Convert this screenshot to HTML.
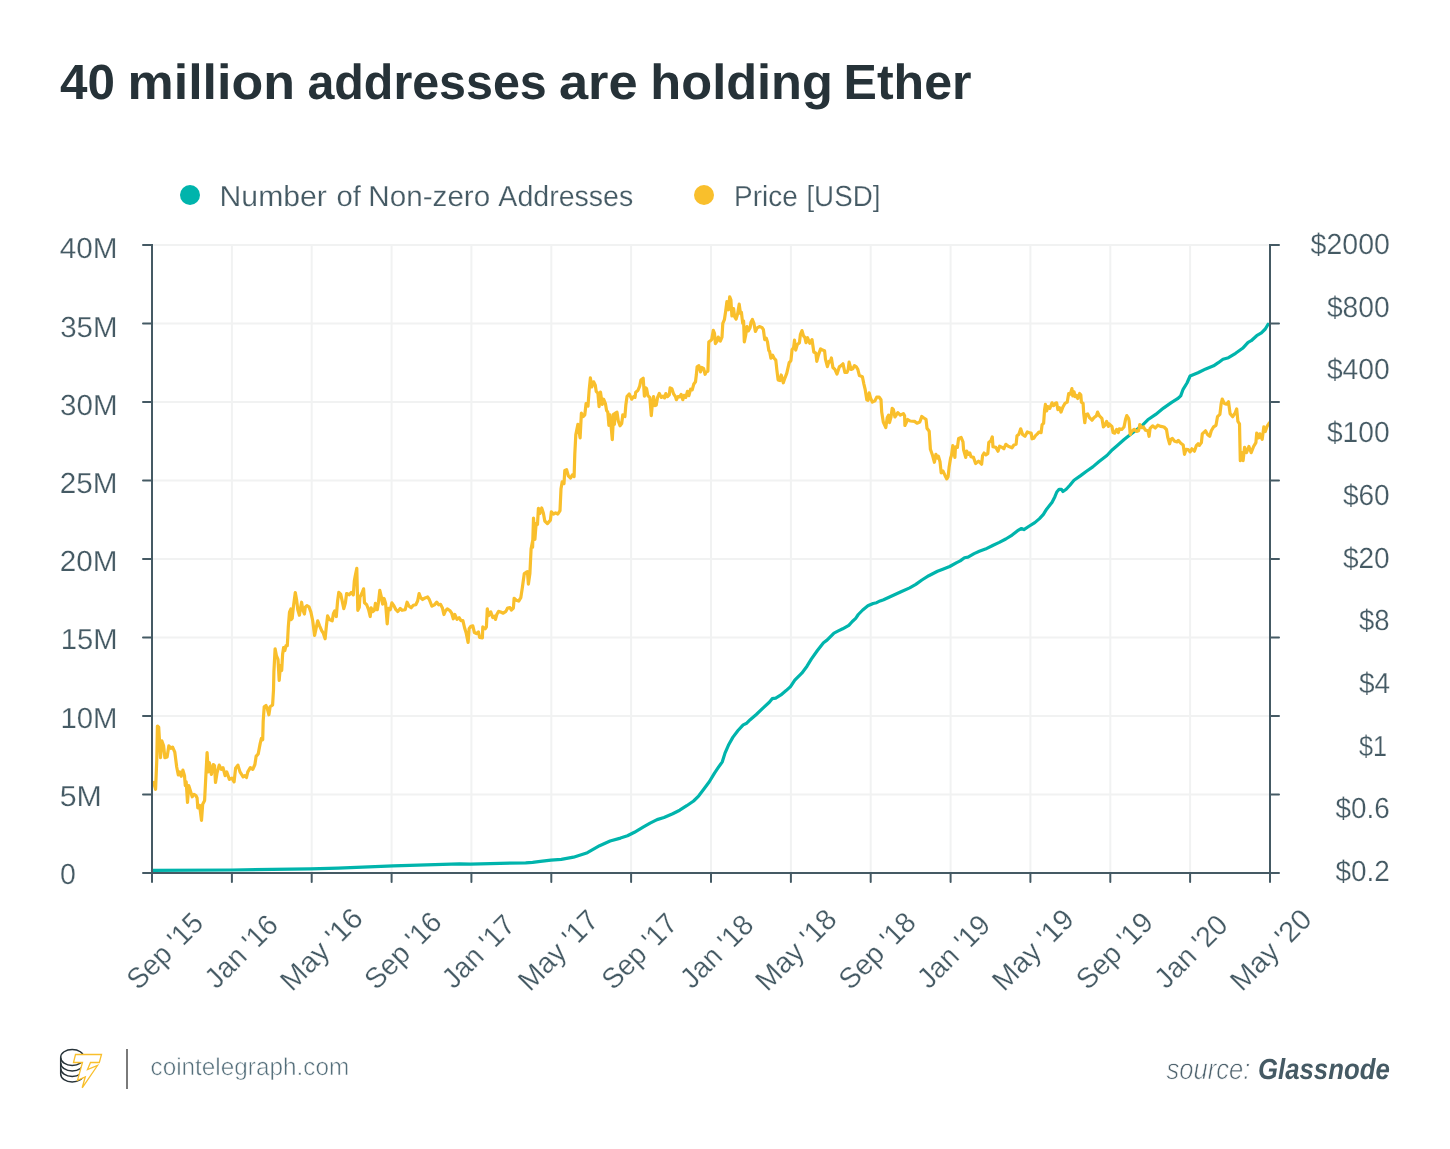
<!DOCTYPE html>
<html>
<head>
<meta charset="utf-8">
<title>40 million addresses are holding Ether</title>
<style>
  html, body { margin: 0; padding: 0; background: #ffffff; }
  body { width: 1450px; height: 1149px; overflow: hidden; font-family: "Liberation Sans", sans-serif; }
  svg { display: block; will-change: transform; }
  text { font-family: "Liberation Sans", sans-serif; text-rendering: geometricPrecision; }
  .title { font-size: 49.3px; font-weight: bold; fill: #263238; }
  .lbl { font-size: 29px; fill: #455a64; stroke: #ffffff; stroke-width: 0.22px; }
  .grid line { stroke: #f1f2f2; stroke-width: 2; }
  .axis line { stroke: #455a64; stroke-width: 2; stroke-linecap: round; }
  .axis line.m { stroke-linecap: butt; }
</style>
</head>
<body>
<svg width="1450" height="1149" viewBox="0 0 1450 1149">

  <!-- Title -->
  <g class="title">
    <text x="60.05" y="98.8" textLength="54.94" lengthAdjust="spacingAndGlyphs">40</text>
    <text x="127.52" y="98.8" textLength="167.39" lengthAdjust="spacingAndGlyphs">million</text>
    <text x="307.41" y="98.8" textLength="239.32" lengthAdjust="spacingAndGlyphs">addresses</text>
    <text x="558.99" y="98.8" textLength="78.64" lengthAdjust="spacingAndGlyphs">are</text>
    <text x="650.36" y="98.8" textLength="182.55" lengthAdjust="spacingAndGlyphs">holding</text>
    <text x="843.53" y="98.8" textLength="128.00" lengthAdjust="spacingAndGlyphs">Ether</text>
  </g>

  <!-- Legend -->
  <circle cx="190" cy="195" r="10" fill="#00b4ac"/>
  <circle cx="704" cy="195" r="10" fill="#f9bf2c"/>
  <g class="lbl">
    <text x="219.59" y="205.8" textLength="107.31" lengthAdjust="spacingAndGlyphs">Number</text>
    <text x="336.44" y="205.8" textLength="24.39" lengthAdjust="spacingAndGlyphs">of</text>
    <text x="368.33" y="205.8" textLength="121.90" lengthAdjust="spacingAndGlyphs">Non-zero</text>
    <text x="498.35" y="205.8" textLength="134.89" lengthAdjust="spacingAndGlyphs">Addresses</text>
    <text x="734.07" y="205.8" textLength="63.64" lengthAdjust="spacingAndGlyphs">Price</text>
    <text x="806.39" y="205.8" textLength="74.03" lengthAdjust="spacingAndGlyphs">[USD]</text>
  </g>

  <!-- Grid -->
  <g class="grid">
    <line x1="231.9" y1="245.0" x2="231.9" y2="873.0"/>
    <line x1="311.7" y1="245.0" x2="311.7" y2="873.0"/>
    <line x1="391.6" y1="245.0" x2="391.6" y2="873.0"/>
    <line x1="471.4" y1="245.0" x2="471.4" y2="873.0"/>
    <line x1="551.3" y1="245.0" x2="551.3" y2="873.0"/>
    <line x1="631.1" y1="245.0" x2="631.1" y2="873.0"/>
    <line x1="711.0" y1="245.0" x2="711.0" y2="873.0"/>
    <line x1="790.9" y1="245.0" x2="790.9" y2="873.0"/>
    <line x1="870.7" y1="245.0" x2="870.7" y2="873.0"/>
    <line x1="950.6" y1="245.0" x2="950.6" y2="873.0"/>
    <line x1="1030.4" y1="245.0" x2="1030.4" y2="873.0"/>
    <line x1="1110.3" y1="245.0" x2="1110.3" y2="873.0"/>
    <line x1="1190.1" y1="245.0" x2="1190.1" y2="873.0"/>
    <line x1="152.0" y1="245.0" x2="1270.0" y2="245.0"/>
    <line x1="152.0" y1="323.5" x2="1270.0" y2="323.5"/>
    <line x1="152.0" y1="402.0" x2="1270.0" y2="402.0"/>
    <line x1="152.0" y1="480.5" x2="1270.0" y2="480.5"/>
    <line x1="152.0" y1="559.0" x2="1270.0" y2="559.0"/>
    <line x1="152.0" y1="637.5" x2="1270.0" y2="637.5"/>
    <line x1="152.0" y1="716.0" x2="1270.0" y2="716.0"/>
    <line x1="152.0" y1="794.5" x2="1270.0" y2="794.5"/>
  </g>

  <!-- Series -->
  <path d="M152.4,870.3 L231.9,870.0 L310.5,868.9 L338.1,868.1 L393.3,865.9 L459.5,863.9 L470.5,864.1 L525.7,862.8 L532.6,862.3 L540.4,861.4 L550.9,860.2 L561.3,859.3 L573.5,857.2 L587.4,852.7 L599.6,845.7 L610.1,841.0 L620.5,838.1 L627.5,835.8 L634.4,832.3 L643.1,827.1 L650.1,823.1 L657.1,819.6 L664.0,817.5 L672.7,813.7 L679.7,810.2 L686.7,805.7 L693.6,801.0 L698.8,795.8 L704.1,788.8 L709.3,781.8 L714.5,773.1 L718.0,767.9 L722.3,761.8 L725.0,753.1 L728.4,745.3 L732.8,737.4 L738.0,730.5 L743.2,724.9 L746.7,723.2 L750.2,719.7 L756.3,714.5 L763.2,707.9 L769.3,702.3 L772.2,698.7 L775.7,698.1 L780.9,694.9 L786.1,690.6 L790.5,686.6 L794.8,680.1 L801.8,673.2 L807.0,666.2 L811.3,659.2 L817.4,650.5 L823.5,642.7 L827.0,640.1 L834.0,633.1 L838.3,630.9 L842.7,628.8 L848.8,625.3 L852.3,621.5 L855.7,618.3 L858.3,614.5 L862.7,610.0 L867.9,605.8 L873.1,603.5 L876.6,602.7 L880.1,600.9 L883.6,599.7 L892.3,595.7 L901.0,591.7 L909.7,587.9 L915.8,584.4 L921.9,580.0 L928.8,575.7 L937.5,571.3 L942.8,569.2 L949.7,566.5 L956.7,562.6 L960.2,560.9 L964.5,557.8 L968.0,557.1 L974.1,553.6 L979.3,551.3 L985.4,549.1 L993.2,545.2 L999.3,542.4 L1005.8,539.0 L1012.1,535.1 L1017.6,530.7 L1021.5,528.5 L1023.9,529.6 L1028.6,526.5 L1034.8,522.6 L1039.5,518.6 L1043.4,514.4 L1046.6,509.2 L1052.1,502.2 L1054.9,496.7 L1056.8,492.0 L1059.1,489.3 L1061.5,489.3 L1063.0,491.5 L1066.2,489.3 L1070.1,485.0 L1074.0,480.3 L1080.3,475.9 L1086.5,471.2 L1092.8,466.9 L1099.1,461.5 L1106.9,455.5 L1112.4,449.7 L1117.9,445.0 L1124.1,439.5 L1130.4,434.5 L1136.7,429.8 L1142.3,425.3 L1147.8,419.8 L1155.7,414.4 L1163.5,408.1 L1171.3,402.6 L1177.6,398.7 L1180.7,395.9 L1183.1,389.3 L1187.0,383.0 L1190.1,376.0 L1198.0,372.8 L1205.8,368.9 L1213.6,365.8 L1218.3,362.7 L1223.0,359.2 L1228.5,357.7 L1235.6,353.3 L1242.6,348.3 L1248.1,342.3 L1251.2,340.7 L1256.7,335.7 L1261.4,332.9 L1265.3,329.0 L1268.1,324.3" fill="none" stroke="#00b4ac" stroke-width="3.2" stroke-linejoin="round" stroke-linecap="round"/>
  <path d="M153.7,782.5 L155.6,789.3 L156.8,759.5 L157.4,726.0 L158.7,727.2 L160.5,757.7 L161.8,740.9 L163.6,745.9 L164.9,757.7 L167.1,757.0 L168.8,745.9 L171.1,748.3 L172.6,747.1 L174.8,752.1 L176.7,767.0 L178.3,775.0 L179.8,771.9 L181.2,776.3 L182.9,770.1 L184.5,775.7 L185.3,785.6 L186.2,781.9 L187.5,802.3 L188.7,785.6 L190.3,790.6 L192.2,796.8 L194.0,794.3 L195.9,795.5 L197.1,798.0 L197.8,807.9 L199.6,805.4 L201.5,820.3 L202.7,804.2 L204.6,800.5 L205.8,776.9 L207.1,752.7 L208.3,771.9 L209.3,762.6 L211.4,774.4 L213.3,764.5 L214.5,765.7 L215.5,782.5 L217.0,773.2 L219.2,765.1 L221.3,769.4 L223.0,767.6 L225.1,775.7 L226.7,771.9 L229.4,779.4 L231.9,778.1 L234.1,781.9 L235.6,768.2 L237.9,765.1 L240.0,771.9 L243.1,776.9 L244.9,775.7 L246.5,777.5 L247.8,771.9 L250.3,767.6 L252.8,769.4 L254.9,764.5 L256.1,756.4 L258.2,753.9 L260.2,743.4 L261.4,738.4 L262.7,739.7 L263.2,721.0 L264.2,706.8 L266.0,705.5 L267.3,708.6 L268.9,714.8 L270.1,706.8 L272.6,704.9 L273.5,690.0 L273.9,671.7 L275.1,648.8 L276.4,655.6 L278.0,659.3 L279.2,680.4 L280.4,665.5 L281.7,670.5 L282.6,654.3 L283.6,647.5 L284.8,650.6 L286.0,645.7 L287.3,645.7 L288.3,627.0 L289.5,612.1 L290.8,609.0 L291.2,619.6 L292.2,618.3 L293.5,605.9 L295.3,592.5 L296.6,599.7 L297.8,609.7 L299.4,615.2 L300.7,607.2 L301.6,602.2 L302.8,609.7 L304.4,614.0 L305.3,607.2 L306.9,605.7 L309.0,606.9 L310.9,612.1 L312.7,620.8 L314.6,635.5 L316.1,628.3 L317.7,620.8 L319.6,625.8 L321.8,630.8 L323.3,633.2 L325.1,638.8 L326.4,625.8 L327.6,615.9 L329.5,619.6 L332.2,620.8 L333.5,613.4 L334.7,610.9 L336.3,616.5 L337.6,601.0 L338.8,592.3 L340.7,594.1 L341.9,599.7 L343.8,608.7 L345.4,602.8 L346.6,593.5 L349.3,594.8 L351.2,592.5 L353.3,594.8 L354.3,581.1 L355.3,575.5 L356.8,568.4 L357.8,610.3 L359.3,607.2 L359.9,597.2 L361.8,593.5 L363.6,588.8 L364.5,602.8 L366.7,604.7 L368.6,609.7 L370.2,616.5 L371.1,607.8 L372.9,611.5 L374.4,610.3 L375.4,603.4 L377.3,609.7 L378.5,602.2 L379.8,590.4 L381.4,597.2 L382.6,604.1 L384.1,598.5 L385.6,603.4 L387.2,623.9 L388.4,608.4 L390.3,609.7 L391.9,602.8 L394.0,605.9 L395.9,609.7 L397.8,611.5 L400.2,608.4 L402.1,610.3 L405.2,609.7 L407.1,602.2 L408.9,605.9 L411.2,607.8 L413.3,605.3 L415.8,604.7 L417.6,601.0 L419.1,593.5 L420.7,597.9 L422.6,599.5 L425.1,597.9 L427.6,597.0 L429.4,599.7 L431.9,606.2 L434.4,604.9 L436.8,602.1 L438.7,604.8 L440.5,604.3 L442.4,608.0 L443.9,614.5 L445.5,610.8 L447.3,608.9 L449.8,610.5 L451.7,613.2 L453.3,618.8 L454.8,614.5 L457.0,619.4 L459.1,617.6 L461.0,620.7 L462.9,620.7 L464.5,627.5 L466.2,633.1 L468.1,642.4 L469.1,628.8 L470.9,626.3 L472.8,625.9 L474.4,632.5 L476.5,633.7 L478.4,631.9 L479.6,637.4 L482.4,637.8 L482.8,626.9 L485.2,628.8 L486.4,626.9 L487.3,608.9 L488.6,615.7 L490.8,612.0 L492.7,617.6 L494.3,616.3 L495.5,619.4 L496.8,614.5 L498.5,611.4 L500.7,612.0 L503.2,613.2 L505.9,611.4 L507.6,608.0 L510.0,607.7 L511.3,610.1 L513.4,608.0 L514.1,598.3 L516.2,600.2 L518.7,601.1 L520.8,597.7 L522.4,587.2 L524.3,573.5 L526.2,572.3 L527.4,571.7 L528.4,584.1 L529.9,573.5 L531.1,548.7 L532.8,540.0 L532.6,547.1 L533.5,518.1 L534.9,539.3 L536.1,523.6 L537.5,524.5 L538.4,508.3 L539.9,513.5 L541.7,508.0 L543.4,513.2 L544.8,521.0 L547.4,523.6 L550.4,520.1 L551.4,511.8 L553.5,514.0 L555.6,512.8 L557.9,514.0 L560.0,510.6 L561.0,488.8 L562.2,481.8 L564.0,483.6 L564.8,470.5 L566.6,469.7 L568.3,475.8 L570.6,478.0 L572.3,474.9 L574.1,476.6 L574.8,454.0 L575.8,434.8 L577.9,424.4 L580.1,437.8 L581.4,413.1 L583.1,416.6 L584.8,414.8 L586.1,403.5 L588.0,406.1 L589.2,389.6 L590.4,377.9 L591.8,387.0 L593.6,381.8 L595.3,385.2 L596.2,391.3 L597.9,393.1 L599.1,406.6 L600.5,392.2 L602.3,404.4 L603.6,399.2 L605.4,403.5 L606.6,410.5 L607.8,412.2 L608.9,425.3 L610.1,414.8 L612.3,439.7 L613.6,414.0 L614.4,424.4 L615.3,413.1 L617.0,412.2 L618.3,420.9 L620.0,425.8 L621.7,423.5 L622.8,414.8 L624.9,416.6 L625.8,405.3 L627.0,396.6 L629.2,393.9 L631.8,399.2 L633.6,396.6 L635.0,397.4 L635.7,392.2 L637.9,390.5 L639.7,386.1 L640.9,380.0 L643.2,378.3 L644.4,396.2 L645.8,387.9 L646.6,388.7 L647.9,395.7 L649.8,397.4 L651.3,415.7 L652.4,403.5 L653.6,396.6 L654.8,405.6 L656.2,405.3 L657.6,397.4 L659.3,393.4 L661.4,397.4 L663.2,396.2 L664.6,397.9 L665.8,393.6 L667.5,396.6 L669.3,394.8 L670.1,387.9 L671.9,388.7 L673.6,393.9 L675.4,396.6 L676.4,399.7 L678.0,396.6 L679.7,396.9 L681.1,394.5 L682.8,399.7 L684.1,395.3 L685.8,397.4 L687.5,391.3 L688.9,395.7 L690.6,389.2 L692.2,389.9 L693.7,384.3 L695.5,381.8 L696.4,374.3 L697.1,366.9 L698.9,365.7 L700.5,371.9 L701.7,367.5 L703.6,368.4 L705.1,374.3 L706.3,371.9 L707.9,371.2 L708.8,342.1 L710.4,340.8 L711.7,339.6 L713.3,330.3 L714.5,333.4 L715.4,343.6 L717.0,341.4 L718.2,337.1 L720.3,341.1 L722.0,337.1 L722.8,323.4 L724.4,319.7 L725.7,311.0 L726.9,301.7 L728.4,309.8 L729.7,296.8 L730.9,299.9 L731.9,316.0 L733.6,308.6 L734.6,316.6 L736.1,319.1 L737.7,313.5 L739.2,304.2 L740.5,313.5 L741.4,312.3 L742.7,323.4 L743.6,321.0 L744.3,341.8 L745.8,334.6 L747.0,326.6 L748.3,330.9 L750.1,327.8 L751.0,322.2 L752.4,319.5 L753.9,323.4 L755.4,331.5 L757.2,327.8 L759.4,326.6 L761.9,327.4 L763.4,329.7 L764.7,339.6 L766.3,338.3 L767.5,342.1 L768.8,350.5 L769.6,351.4 L770.9,358.2 L772.5,355.1 L774.1,358.2 L775.8,360.1 L776.8,369.4 L778.1,379.9 L779.9,380.6 L781.2,375.0 L783.3,382.8 L784.9,378.1 L786.8,373.1 L789.2,362.6 L790.9,360.7 L792.1,349.5 L793.6,347.7 L794.5,340.2 L795.7,350.1 L797.3,344.6 L799.4,342.7 L800.4,334.6 L802.0,330.6 L803.5,335.9 L804.8,337.4 L806.0,342.7 L807.6,337.7 L809.7,343.3 L812.0,339.6 L813.8,352.0 L815.9,353.2 L816.8,361.3 L818.4,355.1 L820.6,348.9 L822.5,350.1 L824.6,350.8 L825.5,359.4 L827.4,366.6 L829.0,361.3 L830.2,361.9 L831.4,358.0 L832.9,367.5 L834.9,369.4 L837.0,374.1 L839.3,366.9 L841.1,365.7 L843.0,363.8 L844.9,372.5 L847.0,372.5 L848.2,369.4 L849.1,362.2 L851.1,369.4 L852.8,368.8 L854.4,365.7 L856.3,366.9 L857.8,369.4 L859.4,375.6 L862.4,376.7 L863.9,384.1 L865.1,389.1 L866.8,399.7 L868.0,400.3 L869.2,392.8 L870.5,397.8 L872.3,402.1 L874.8,400.9 L876.7,397.2 L879.2,397.2 L881.0,399.7 L881.7,412.1 L883.3,422.0 L885.8,427.6 L887.2,417.7 L888.5,415.2 L889.5,422.6 L891.0,417.0 L892.2,408.3 L893.4,409.6 L894.9,417.0 L897.8,412.7 L900.3,415.2 L903.4,413.6 L904.6,415.8 L904.9,425.5 L907.7,419.5 L910.2,421.0 L914.6,421.4 L917.0,423.2 L919.8,422.0 L921.8,416.4 L923.9,418.0 L926.0,419.3 L927.0,428.2 L929.2,431.3 L930.4,449.3 L932.6,455.5 L934.4,462.3 L935.9,454.3 L937.5,458.0 L938.4,456.1 L940.0,461.7 L941.2,472.9 L942.9,471.0 L945.0,475.4 L946.8,478.9 L948.1,476.6 L949.1,467.3 L950.6,458.0 L951.5,455.5 L952.8,445.6 L954.9,457.4 L955.5,446.8 L957.4,447.4 L958.6,438.4 L961.1,437.5 L963.0,441.9 L963.6,449.9 L965.7,457.4 L966.7,451.2 L968.6,454.3 L969.8,453.0 L971.0,456.8 L973.5,457.4 L975.6,463.6 L978.5,461.1 L981.6,464.2 L982.6,455.5 L984.1,453.0 L985.9,454.9 L987.8,453.7 L988.8,442.5 L990.9,440.6 L992.3,436.9 L993.0,446.8 L995.9,447.4 L998.0,451.2 L999.6,446.2 L1002.1,447.4 L1003.9,448.7 L1005.8,444.3 L1008.3,446.2 L1012.0,447.8 L1013.9,445.0 L1016.1,444.3 L1017.0,435.7 L1018.8,434.4 L1020.7,428.8 L1022.6,434.4 L1025.0,436.3 L1027.3,431.9 L1029.4,432.9 L1031.2,433.2 L1032.0,438.8 L1033.9,438.2 L1035.5,435.7 L1037.4,433.9 L1038.9,432.0 L1041.1,432.6 L1042.1,424.6 L1043.6,423.3 L1044.6,409.7 L1045.4,404.4 L1046.7,410.9 L1047.9,406.6 L1049.8,408.4 L1052.0,402.8 L1053.5,405.7 L1055.4,403.2 L1056.6,402.8 L1057.9,409.7 L1059.5,407.8 L1061.0,412.1 L1062.8,407.2 L1064.9,403.4 L1067.2,402.2 L1068.7,393.5 L1070.3,394.1 L1071.9,388.6 L1072.8,396.0 L1074.0,391.7 L1075.2,396.6 L1076.5,395.4 L1077.7,398.5 L1079.6,393.5 L1080.8,394.8 L1081.4,402.2 L1083.1,403.4 L1083.7,413.4 L1084.8,422.7 L1085.8,414.6 L1087.7,414.0 L1089.5,417.7 L1092.0,420.2 L1093.9,417.7 L1096.3,415.9 L1097.6,412.1 L1099.4,415.9 L1101.9,418.3 L1103.4,427.0 L1105.0,425.2 L1106.6,421.4 L1108.4,426.4 L1109.1,423.9 L1111.9,426.4 L1113.1,432.6 L1114.6,433.2 L1116.6,429.5 L1118.3,432.6 L1119.3,428.9 L1121.8,429.5 L1124.0,427.0 L1125.5,419.6 L1126.8,415.6 L1128.6,418.3 L1129.2,421.4 L1130.2,434.5 L1131.7,431.4 L1134.2,429.3 L1136.7,431.4 L1138.6,430.8 L1139.8,424.6 L1141.7,427.7 L1143.5,427.0 L1145.4,430.1 L1147.9,430.8 L1149.1,436.3 L1150.1,428.3 L1152.6,425.8 L1155.3,428.0 L1157.8,425.2 L1160.9,426.4 L1164.0,427.0 L1166.5,429.5 L1167.7,437.0 L1169.6,443.8 L1170.8,439.4 L1172.4,438.5 L1174.6,441.3 L1177.0,441.9 L1178.3,440.4 L1180.8,443.2 L1183.2,445.0 L1184.5,454.3 L1186.1,449.4 L1188.2,449.6 L1190.1,451.9 L1191.9,448.8 L1194.4,451.2 L1196.3,445.7 L1198.1,443.8 L1199.4,445.4 L1201.4,442.6 L1202.3,433.9 L1205.5,430.8 L1207.7,434.7 L1209.7,436.3 L1211.3,430.8 L1213.6,426.9 L1216.0,425.3 L1217.5,416.7 L1219.9,414.4 L1221.1,404.2 L1222.2,399.0 L1224.3,403.4 L1226.5,404.2 L1228.5,401.8 L1230.1,413.6 L1232.7,416.7 L1235.2,412.8 L1236.7,408.9 L1237.9,421.4 L1239.5,423.8 L1240.3,460.6 L1242.1,452.7 L1243.1,460.6 L1244.6,447.3 L1246.5,452.7 L1248.9,446.5 L1251.2,452.7 L1253.6,446.5 L1255.9,442.6 L1256.7,433.2 L1258.7,437.9 L1259.8,433.9 L1262.2,439.4 L1263.8,426.9 L1265.3,431.6 L1267.2,426.1 L1269.2,423.0" fill="none" stroke="#f9bf2c" stroke-width="3.2" stroke-linejoin="round" stroke-linecap="round"/>

  <!-- Axes -->
  <g class="axis">
    <line class="m" x1="152.0" y1="244.0" x2="152.0" y2="874.0"/>
    <line class="m" x1="1270.0" y1="244.0" x2="1270.0" y2="874.0"/>
    <line x1="143.0" y1="873.0" x2="1279.0" y2="873.0"/>
    <line x1="143.0" y1="245.0" x2="152.0" y2="245.0"/>
    <line x1="1270.0" y1="245.0" x2="1279.0" y2="245.0"/>
    <line x1="143.0" y1="323.5" x2="152.0" y2="323.5"/>
    <line x1="1270.0" y1="323.5" x2="1279.0" y2="323.5"/>
    <line x1="143.0" y1="402.0" x2="152.0" y2="402.0"/>
    <line x1="1270.0" y1="402.0" x2="1279.0" y2="402.0"/>
    <line x1="143.0" y1="480.5" x2="152.0" y2="480.5"/>
    <line x1="1270.0" y1="480.5" x2="1279.0" y2="480.5"/>
    <line x1="143.0" y1="559.0" x2="152.0" y2="559.0"/>
    <line x1="1270.0" y1="559.0" x2="1279.0" y2="559.0"/>
    <line x1="143.0" y1="637.5" x2="152.0" y2="637.5"/>
    <line x1="1270.0" y1="637.5" x2="1279.0" y2="637.5"/>
    <line x1="143.0" y1="716.0" x2="152.0" y2="716.0"/>
    <line x1="1270.0" y1="716.0" x2="1279.0" y2="716.0"/>
    <line x1="143.0" y1="794.5" x2="152.0" y2="794.5"/>
    <line x1="1270.0" y1="794.5" x2="1279.0" y2="794.5"/>
    <line x1="152.0" y1="873.0" x2="152.0" y2="882.0"/>
    <line x1="231.9" y1="873.0" x2="231.9" y2="882.0"/>
    <line x1="311.7" y1="873.0" x2="311.7" y2="882.0"/>
    <line x1="391.6" y1="873.0" x2="391.6" y2="882.0"/>
    <line x1="471.4" y1="873.0" x2="471.4" y2="882.0"/>
    <line x1="551.3" y1="873.0" x2="551.3" y2="882.0"/>
    <line x1="631.1" y1="873.0" x2="631.1" y2="882.0"/>
    <line x1="711.0" y1="873.0" x2="711.0" y2="882.0"/>
    <line x1="790.9" y1="873.0" x2="790.9" y2="882.0"/>
    <line x1="870.7" y1="873.0" x2="870.7" y2="882.0"/>
    <line x1="950.6" y1="873.0" x2="950.6" y2="882.0"/>
    <line x1="1030.4" y1="873.0" x2="1030.4" y2="882.0"/>
    <line x1="1110.3" y1="873.0" x2="1110.3" y2="882.0"/>
    <line x1="1190.1" y1="873.0" x2="1190.1" y2="882.0"/>
    <line x1="1270.0" y1="873.0" x2="1270.0" y2="882.0"/>
  </g>

  <!-- Left labels -->
  <g class="lbl">
    <text x="59.71" y="258.4" textLength="57.87" lengthAdjust="spacingAndGlyphs">40M</text>
    <text x="60.24" y="336.6" textLength="57.31" lengthAdjust="spacingAndGlyphs">35M</text>
    <text x="60.04" y="414.8" textLength="57.52" lengthAdjust="spacingAndGlyphs">30M</text>
    <text x="59.76" y="492.9" textLength="57.81" lengthAdjust="spacingAndGlyphs">25M</text>
    <text x="59.76" y="571.1" textLength="57.81" lengthAdjust="spacingAndGlyphs">20M</text>
    <text x="60.74" y="649.3" textLength="56.79" lengthAdjust="spacingAndGlyphs">15M</text>
    <text x="60.43" y="727.5" textLength="57.11" lengthAdjust="spacingAndGlyphs">10M</text>
    <text x="59.73" y="805.7" textLength="42.16" lengthAdjust="spacingAndGlyphs">5M</text>
    <text x="60.10" y="883.8" textLength="15.84" lengthAdjust="spacingAndGlyphs">0</text>
  </g>
  <!-- Right labels -->
  <g class="lbl">
    <text x="1310.58" y="254.0" textLength="79.26" lengthAdjust="spacingAndGlyphs">$2000</text>
    <text x="1326.88" y="316.7" textLength="62.82" lengthAdjust="spacingAndGlyphs">$800</text>
    <text x="1326.88" y="379.4" textLength="62.82" lengthAdjust="spacingAndGlyphs">$400</text>
    <text x="1326.89" y="442.1" textLength="62.72" lengthAdjust="spacingAndGlyphs">$100</text>
    <text x="1342.89" y="504.8" textLength="46.81" lengthAdjust="spacingAndGlyphs">$60</text>
    <text x="1342.89" y="567.5" textLength="46.81" lengthAdjust="spacingAndGlyphs">$20</text>
    <text x="1359.10" y="630.2" textLength="30.55" lengthAdjust="spacingAndGlyphs">$8</text>
    <text x="1358.89" y="692.9" textLength="31.13" lengthAdjust="spacingAndGlyphs">$4</text>
    <text x="1358.94" y="755.6" textLength="28.01" lengthAdjust="spacingAndGlyphs">$1</text>
    <text x="1335.49" y="818.3" textLength="54.27" lengthAdjust="spacingAndGlyphs">$0.6</text>
    <text x="1335.49" y="881.0" textLength="54.35" lengthAdjust="spacingAndGlyphs">$0.2</text>
  </g>
  <!-- X labels -->
  <g class="lbl">
    <text transform="translate(138.6,991.1) rotate(-45)" textLength="94.0" lengthAdjust="spacingAndGlyphs">Sep &#x27;15</text>
    <text transform="translate(216.6,989.9) rotate(-45)" textLength="89.2" lengthAdjust="spacingAndGlyphs">Jan &#x27;16</text>
    <text transform="translate(292.1,992.5) rotate(-45)" textLength="102.4" lengthAdjust="spacingAndGlyphs">May &#x27;16</text>
    <text transform="translate(376.2,991.1) rotate(-45)" textLength="95.1" lengthAdjust="spacingAndGlyphs">Sep &#x27;16</text>
    <text transform="translate(453.7,989.9) rotate(-45)" textLength="89.2" lengthAdjust="spacingAndGlyphs">Jan &#x27;17</text>
    <text transform="translate(529.9,992.5) rotate(-45)" textLength="99.7" lengthAdjust="spacingAndGlyphs">May &#x27;17</text>
    <text transform="translate(613.5,991.1) rotate(-45)" textLength="92.9" lengthAdjust="spacingAndGlyphs">Sep &#x27;17</text>
    <text transform="translate(692.1,989.9) rotate(-45)" textLength="89.2" lengthAdjust="spacingAndGlyphs">Jan &#x27;18</text>
    <text transform="translate(767.2,992.5) rotate(-45)" textLength="100.9" lengthAdjust="spacingAndGlyphs">May &#x27;18</text>
    <text transform="translate(850.6,991.1) rotate(-45)" textLength="94.8" lengthAdjust="spacingAndGlyphs">Sep &#x27;18</text>
    <text transform="translate(928.9,989.9) rotate(-45)" textLength="89.2" lengthAdjust="spacingAndGlyphs">Jan &#x27;19</text>
    <text transform="translate(1004.1,992.5) rotate(-45)" textLength="101.2" lengthAdjust="spacingAndGlyphs">May &#x27;19</text>
    <text transform="translate(1087.9,991.1) rotate(-45)" textLength="94.5" lengthAdjust="spacingAndGlyphs">Sep &#x27;19</text>
    <text transform="translate(1166.3,989.9) rotate(-45)" textLength="89.2" lengthAdjust="spacingAndGlyphs">Jan &#x27;20</text>
    <text transform="translate(1242.0,992.5) rotate(-45)" textLength="101.2" lengthAdjust="spacingAndGlyphs">May &#x27;20</text>
  </g>

  <!-- Footer -->
  <g fill="none" stroke="#263238" stroke-width="1.5">
    <ellipse cx="72.2" cy="1057.4" rx="11.5" ry="8"/>
    <path d="M60.7,1057.4 v16.6 a11.5,8 0 0 0 23,0 v-16.6"/>
    <path d="M60.7,1062.9 a11.5,8 0 0 0 23,0"/>
    <path d="M60.7,1068.4 a11.5,8 0 0 0 23,0"/>
  </g>
  <path d="M75.5,1054.5 L101.5,1054.5 L99.3,1062.5 L90.5,1062.5 L87.5,1069.5 L97.5,1065.5 L82.2,1087.8 L85.3,1076.8 L77.5,1080.3 L82.5,1062.5 L73.5,1062.5 Z" fill="#ffffff" stroke="#f9bf2c" stroke-width="1.3" stroke-linejoin="miter"/>
  <line x1="127" y1="1049" x2="127" y2="1089" stroke="#7a7a7a" stroke-width="2"/>

    <text x="150.51" y="1075.2" textLength="198.66" lengthAdjust="spacingAndGlyphs" font-size="24.5" fill="#546e7a" stroke="#ffffff" stroke-width="0.55">cointelegraph.com</text>
    <text x="1166.59" y="1078.9" textLength="83.71" lengthAdjust="spacingAndGlyphs" font-size="29" fill="#50646f" font-style="italic" stroke="#ffffff" stroke-width="0.7">source:</text>
    <text x="1257.99" y="1078.9" textLength="131.78" lengthAdjust="spacingAndGlyphs" font-size="29" fill="#455a64" font-weight="bold" font-style="italic">Glassnode</text>
</svg>
</body>
</html>
